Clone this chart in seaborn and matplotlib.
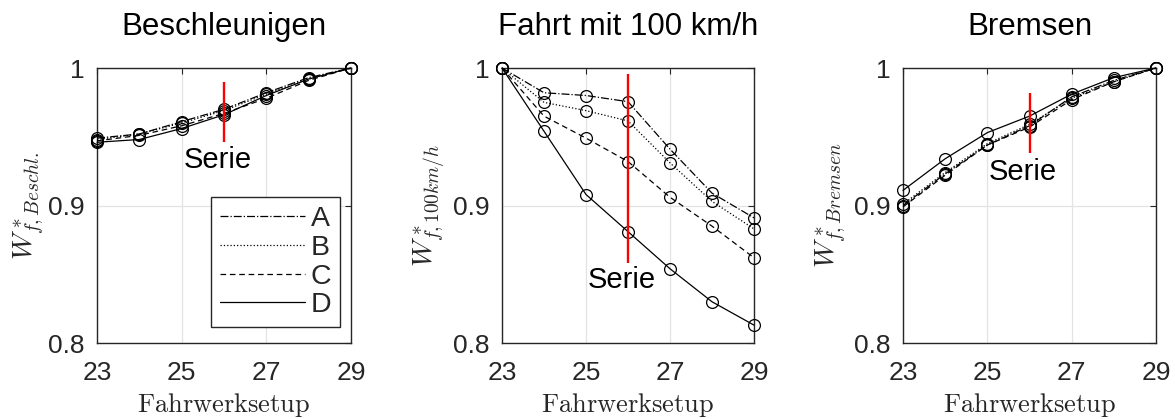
import matplotlib
matplotlib.use("Agg")
import matplotlib.pyplot as plt
from matplotlib.lines import Line2D
import seaborn as sns

# Fahrwerksetups (x-axis)
setups = [23, 24, 25, 26, 27, 28, 29]
variants = ["A", "B", "C", "D"]

# Normalised values per variant, Beschleunigen
beschl_A = [0.949, 0.952, 0.961, 0.970, 0.982, 0.993, 1.0]
beschl_B = [0.948, 0.952, 0.960, 0.969, 0.981, 0.992, 1.0]
beschl_C = [0.947, 0.951, 0.958, 0.967, 0.978, 0.991, 1.0]
beschl_D = [0.946, 0.948, 0.956, 0.966, 0.980, 0.992, 1.0]

# Fahrt mit 100 km/h
fahrt_A = [1.0, 0.982, 0.980, 0.9755, 0.941, 0.909, 0.891]
fahrt_B = [1.0, 0.975, 0.969, 0.9615, 0.931, 0.903, 0.883]
fahrt_C = [1.0, 0.965, 0.949, 0.932, 0.906, 0.885, 0.862]
fahrt_D = [1.0, 0.954, 0.908, 0.881, 0.854, 0.830, 0.813]

# Bremsen
brems_A = [0.900, 0.923, 0.944, 0.958, 0.979, 0.991, 1.0]
brems_B = [0.901, 0.924, 0.945, 0.959, 0.978, 0.990, 1.0]
brems_C = [0.899, 0.922, 0.944, 0.957, 0.977, 0.990, 1.0]
brems_D = [0.911, 0.934, 0.953, 0.965, 0.981, 0.993, 1.0]

titles = ["Beschleunigen", "Fahrt mit 100 km/h", "Bremsen"]
ylabels = [r"$W^*_{f,Beschl.}$", r"$W^*_{f,100km/h}$", r"$W^*_{f,Bremsen}$"]
xlabel = r"$\mathrm{Fahrwerksetup}$"

# Series setup marker and its vertical extent per panel
serie_setup = 26
serie_low = [0.9464, 0.858, 0.938]
serie_high = [0.9896, 0.9956, 0.982]
serie_text_pos = [(25.86, 0.933), (25.86, 0.846), (25.84, 0.9246)]

xticks = [23, 25, 27, 29]
yticks = [0.8, 0.9, 1.0]
yticklabels = ["0.8", "0.9", "1"]

panels = [
    [beschl_A, beschl_B, beschl_C, beschl_D],
    [fahrt_A, fahrt_B, fahrt_C, fahrt_D],
    [brems_A, brems_B, brems_C, brems_D],
]

line_styles = {"A": "-.", "B": ":", "C": (0, (4.5, 3.0)), "D": "-"}

sns.set_style("white")
plt.rcParams["font.family"] = ["Liberation Sans", "DejaVu Sans"]
plt.rcParams["mathtext.fontset"] = "cm"

axis_col = "#262626"
fig = plt.figure(figsize=(11.75, 4.19), dpi=100)

W, H = 1175, 419
boxes = [(97, 351), (502, 754), (903, 1156)]
top_px, bot_px = 68, 343
ylabel_cx = [28.5, 429, 831]

for i, (x0, x1) in enumerate(boxes):
    ax = fig.add_axes([x0 / W, 1 - bot_px / H, (x1 - x0) / W, (bot_px - top_px) / H])
    for name, vals in zip(variants, panels[i]):
        sns.lineplot(x=setups, y=vals, ax=ax, color="black", linestyle=line_styles[name],
                     linewidth=0.9, marker="o", markersize=8.5, markerfacecolor="none",
                     markeredgecolor="black", markeredgewidth=0.9, clip_on=False,
                     legend=False, zorder=3)
    ax.vlines(serie_setup, serie_low[i], serie_high[i], color="red", linewidth=1.7, zorder=4)
    tx, ty = serie_text_pos[i]
    ax.text(tx, ty, "Serie", ha="center", va="center", fontsize=21, color="black", zorder=5)

    ax.set_xlim(23, 29)
    ax.set_ylim(0.8, 1.0)
    ax.set_xticks(xticks)
    ax.set_xticklabels([str(t) for t in xticks])
    ax.set_yticks(yticks)
    ax.set_yticklabels(yticklabels)
    ax.grid(True, color="#e3e3e3", linewidth=0.9)
    ax.set_axisbelow(True)
    ax.tick_params(direction="in", length=4, width=0.8, color=axis_col, labelcolor=axis_col,
                   labelsize=19, top=True, right=True)
    ax.tick_params(axis="x", pad=13)
    ax.tick_params(axis="y", pad=9)
    for sp in ax.spines.values():
        sp.set_visible(True)
        sp.set_color(axis_col)
        sp.set_linewidth(1.0)

    ax.set_ylabel(ylabels[i], fontsize=20, color=axis_col, va="center")
    ax.yaxis.set_label_coords((ylabel_cx[i] - x0) / (x1 - x0), 0.5)
    ax.set_xlabel(xlabel, fontsize=19, color=axis_col, va="baseline")
    ax.xaxis.set_label_coords(0.5, -(412 - bot_px) / (bot_px - top_px))

    ax.text(0.5, 1 + (top_px - 35) / (bot_px - top_px), titles[i], transform=ax.transAxes,
            ha="center", va="baseline", fontsize=22.5, color="black")

    if i == 0:
        handles = [Line2D([0], [0], color="black", linestyle=line_styles[n], linewidth=0.9)
                   for n in variants]
        leg = ax.legend(handles, variants, loc="lower right",
                        bbox_to_anchor=((340 - x0) / (x1 - x0), (bot_px - 327) / (bot_px - top_px)),
                        borderaxespad=0, fontsize=20.5, handlelength=3.0, handletextpad=0.2,
                        labelspacing=0.1, borderpad=0.3, fancybox=False, framealpha=1,
                        edgecolor=axis_col)
        leg.get_frame().set_linewidth(1.0)

fig.savefig("out.png", dpi=100)
